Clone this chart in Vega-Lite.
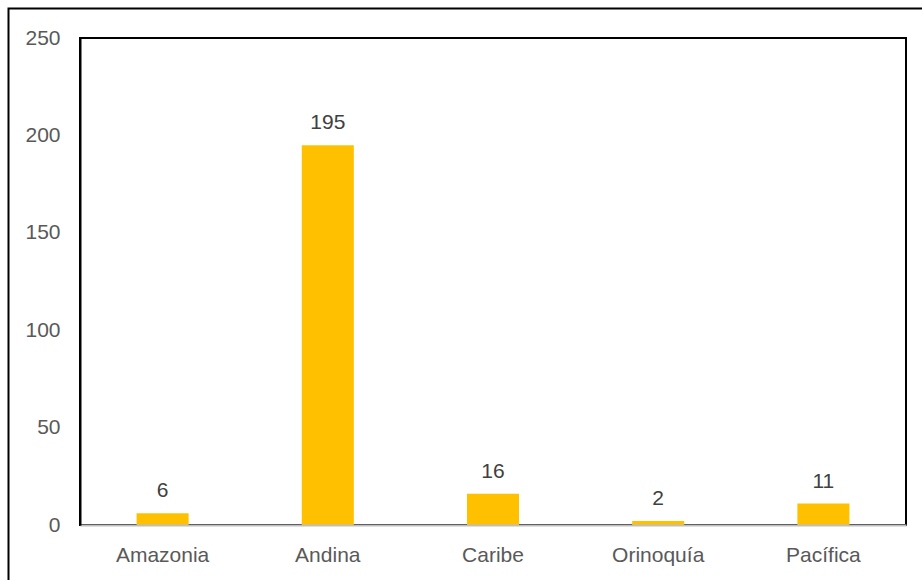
{
  "$schema": "https://vega.github.io/schema/vega-lite/v6.json",
  "width": 920,
  "height": 580,
  "autosize": "none",
  "padding": {"left": 8.5, "top": 8.5, "right": 0, "bottom": 0},
  "background": "white",
  "config": {
    "view": {"stroke": "black", "strokeWidth": 2},
    "font": "Liberation Sans"
  },
  "data": {
    "values": [
      {"region": "Amazonia", "value": 6},
      {"region": "Andina", "value": 195},
      {"region": "Caribe", "value": 16},
      {"region": "Orinoquía", "value": 2},
      {"region": "Pacífica", "value": 11}
    ]
  },
  "layer": [
    {
      "data": {"values": [{"x0": 0, "x1": 1, "y0": 0, "y1": 250}]},
      "mark": {"type": "rect", "fill": "white", "fillOpacity": 0, "stroke": "black", "strokeWidth": 2},
      "encoding": {
        "x": {"field": "x0", "type": "quantitative", "scale": {"domain": [0, 1], "range": [71.5, 897.5]}, "axis": null},
        "x2": {"field": "x1"},
        "y": {
          "field": "y0", "type": "quantitative",
          "scale": {"domain": [0, 250], "range": [516.5, 29.5], "nice": false, "zero": true},
          "axis": {
            "title": null, "values": [0, 50, 100, 150, 200, 250], "ticks": false, "tickSize": 0,
            "grid": false, "domainColor": "black", "domainWidth": 2, "offset": -71.5,
            "labelColor": "#595959", "labelFontSize": 21, "labelPadding": 20,
            "labelFont": "Liberation Sans", "zindex": 2
          }
        },
        "y2": {"field": "y1"}
      }
    },
    {
      "layer": [
        {
          "mark": {"type": "bar", "color": "#FFC000"},
          "encoding": {
            "x": {
              "field": "region", "type": "nominal", "sort": null,
              "scale": {"range": [71.5, 897.5], "paddingInner": 0.685, "paddingOuter": 0.3425},
              "axis": {
                "title": null, "labelAngle": 0, "ticks": false, "tickSize": 0,
                "domainColor": "#BFBFBF", "domainWidth": 2, "offset": -63.5,
                "labelColor": "#595959", "labelFontSize": 21, "labelPadding": 19,
                "labelFont": "Liberation Sans", "zindex": 2
              }
            },
            "y": {"field": "value", "type": "quantitative"}
          }
        },
        {
          "mark": {"type": "text", "dy": -16, "baseline": "alphabetic", "fontSize": 21, "color": "#404040", "font": "Liberation Sans"},
          "encoding": {
            "x": {"field": "region", "type": "nominal", "sort": null},
            "y": {"field": "value", "type": "quantitative"},
            "text": {"field": "value", "type": "quantitative"}
          }
        }
      ]
    }
  ],
  "resolve": {"scale": {"x": "independent"}}
}
